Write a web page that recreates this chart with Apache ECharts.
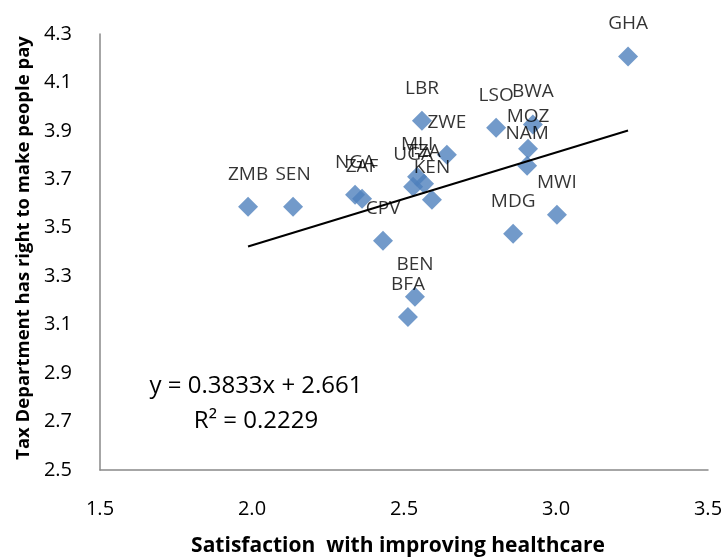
<!DOCTYPE html>
<html>
<head>
<meta charset="utf-8">
<script src="https://cdn.jsdelivr.net/npm/echarts@6/dist/echarts.min.js"></script>
<style>
  html, body { margin: 0; padding: 0; background: #fff; }
  #chart { width: 728px; height: 560px; }
</style>
</head>
<body>
<div id="chart"></div>
<script>
// country codes
var countries = ['GHA', 'ZMB', 'SEN', 'NGA', 'ZAF', 'CPV', 'LBR', 'ZWE', 'MLI', 'UGA',
  'TZA', 'KEN', 'LSO', 'BWA', 'MOZ', 'NAM', 'MWI', 'MDG', 'BEN', 'BFA']
// satisfaction with improving healthcare (x)
var satisfaction = [3.237, 1.987, 2.135, 2.339, 2.362, 2.431, 2.559, 2.641, 2.543, 2.530,
  2.566, 2.592, 2.803, 2.924, 2.908, 2.905, 3.003, 2.859, 2.536, 2.513]
// tax department has right to make people pay (y)
var taxRight = [4.207, 3.587, 3.587, 3.636, 3.620, 3.446, 3.942, 3.802, 3.711, 3.669,
  3.682, 3.616, 3.913, 3.926, 3.826, 3.756, 3.554, 3.475, 3.215, 3.132]
// linear trendline
var slope = 0.3833
var intercept = 2.661
var rSquared = 0.2229

var points = []
for (var i = 0; i < countries.length; i++) {
  points.push({ name: countries[i], value: [satisfaction[i], taxRight[i]] })
}
var xMin = Math.min.apply(null, satisfaction)
var xMax = Math.max.apply(null, satisfaction)
var trend = [[xMin, slope * xMin + intercept], [xMax, slope * xMax + intercept]]

var chart = echarts.init(document.getElementById('chart'))
var font = '"Open Sans", "Liberation Sans", sans-serif'
var option = {
  animation: false,
  textStyle: { fontFamily: font },
  grid: { left: 100, right: 20, top: 34, bottom: 90, containLabel: false, outerBoundsMode: 'none' },
  xAxis: {
    type: 'value',
    min: 1.5,
    max: 3.5,
    interval: 0.5,
    name: 'Satisfaction  with improving healthcare',
    nameLocation: 'middle',
    nameGap: 66,
    nameTextStyle: { fontFamily: font, fontSize: 21, fontWeight: 'bold', color: '#000', padding: [0, 12, 0, 0] },
    axisLine: { lineStyle: { color: '#898989', width: 1.5 } },
    axisTick: { show: false },
    splitLine: { show: false },
    axisLabel: {
      margin: 29,
      fontFamily: font,
      fontSize: 20,
      color: '#000',
      formatter: function (v) { return v.toFixed(1) }
    }
  },
  yAxis: {
    type: 'value',
    min: 2.5,
    max: 4.3,
    interval: 0.2,
    name: 'Tax Department has right to make people pay',
    nameLocation: 'middle',
    nameGap: 67,
    nameTextStyle: { fontFamily: font, fontSize: 18.5, fontWeight: 'bold', color: '#000', padding: [0, 0, 0, 8] },
    axisLine: { show: true, lineStyle: { color: '#898989', width: 1.5 } },
    axisTick: { show: false },
    splitLine: { show: false },
    axisLabel: {
      margin: 28,
      fontFamily: font,
      fontSize: 20,
      color: '#000',
      formatter: function (v) { return v.toFixed(1) }
    }
  },
  graphic: [
    {
      type: 'text',
      x: 256,
      y: 404,
      style: {
        text: 'y = ' + slope + 'x + ' + intercept + '\nR² = ' + rSquared,
        font: '24px ' + font,
        fill: '#000',
        align: 'center',
        verticalAlign: 'middle',
        lineHeight: 35
      }
    }
  ],
  series: [
    {
      type: 'scatter',
      symbol: 'diamond',
      symbolSize: 20,
      itemStyle: { color: '#4F81BD' },
      label: {
        show: true,
        position: 'top',
        distance: 13,
        formatter: '{b}',
        fontFamily: font,
        fontSize: 19,
        color: '#000'
      },
      data: points,
      z: 2
    },
    {
      type: 'line',
      data: trend,
      showSymbol: false,
      silent: true,
      lineStyle: { color: '#000', width: 2 },
      z: 3
    }
  ]
}
chart.setOption(option)
</script>
</body>
</html>
